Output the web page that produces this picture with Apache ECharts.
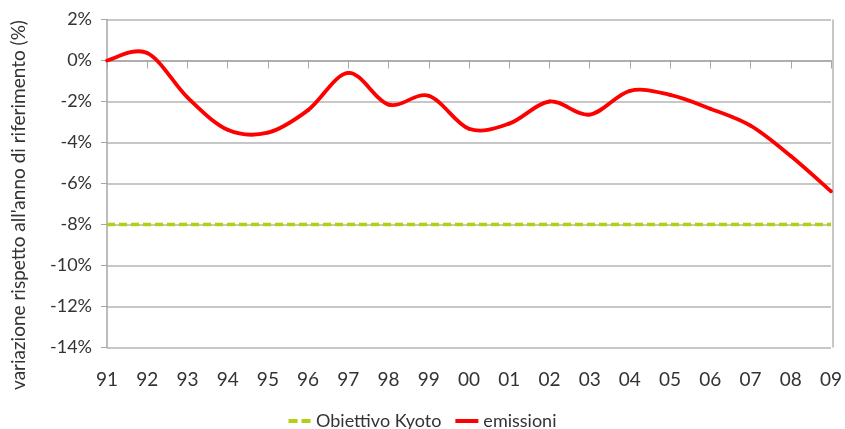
<!DOCTYPE html>
<html>
<head>
<meta charset="utf-8">
<script src="https://cdn.jsdelivr.net/npm/echarts@6/dist/echarts.min.js"></script>
<style>
  html, body { margin: 0; padding: 0; background: #fff; }
  #chart { width: 845px; height: 429px; }
</style>
</head>
<body>
<div id="chart"></div>
<script>
// Years (two-digit labels) and variation of emissions vs. reference year, in %
const years = ['91','92','93','94','95','96','97','98','99','00','01','02','03','04','05','06','07','08','09'];
const emissioni = [0, 0.37, -1.8, -3.38, -3.52, -2.42, -0.6, -2.15, -1.72, -3.33, -3.08, -2.0, -2.64, -1.48, -1.68, -2.35, -3.18, -4.66, -6.38];
const kyotoTarget = -8;
const kyoto = years.map(() => kyotoTarget);
const yTicks = { min: -14, max: 2, step: 2 };

const FONT = 'Lato, "Open Sans", sans-serif';
const RED = '#ff0000';
const GREEN = '#b3cf0d';

// Smoothed curve segment (cardinal spline, tension 1/6) between point i and i+1
function renderSegment(params, api) {
  const i = params.dataIndex;
  const n = emissioni.length;
  if (i >= n - 1) return null;
  const pt = k => {
    const j = Math.max(0, Math.min(n - 1, k));
    return api.coord([j, emissioni[j]]);
  };
  const p0 = pt(i - 1), p1 = pt(i), p2 = pt(i + 1), p3 = pt(i + 2);
  const c1 = [p1[0] + (p2[0] - p0[0]) / 6, p1[1] + (p2[1] - p0[1]) / 6];
  const c2 = [p2[0] - (p3[0] - p1[0]) / 6, p2[1] - (p3[1] - p1[1]) / 6];
  return {
    type: 'bezierCurve',
    shape: { x1: p1[0], y1: p1[1], cpx1: c1[0], cpy1: c1[1], cpx2: c2[0], cpy2: c2[1], x2: p2[0], y2: p2[1] },
    style: { stroke: RED, lineWidth: 3.8, fill: null, lineCap: 'round' }
  };
}

const chart = echarts.init(document.getElementById('chart'));
chart.setOption({
  animation: false,
  textStyle: { fontFamily: FONT, color: '#333' },
  grid: { left: 107, right: 12, top: 19.5, bottom: 81.5, containLabel: false },
  legend: {
    top: 407,
    left: 'center',
    itemWidth: 23,
    itemHeight: 4,
    itemGap: 14,
    textStyle: { fontFamily: FONT, fontSize: 18, color: '#333' },
    data: [
      { name: 'Obiettivo Kyoto', icon: 'path://M0,0h9v4h-9z M13,0h9v4h-9z', itemStyle: { color: GREEN } },
      { name: 'emissioni', icon: 'rect', itemStyle: { color: RED } }
    ]
  },
  xAxis: {
    type: 'category',
    data: years,
    boundaryGap: false,
    axisLine: { lineStyle: { color: '#a6a6a6', width: 1.5 } },
    axisTick: { show: true, length: 8, interval: 0, lineStyle: { color: '#a6a6a6', width: 1 } },
    axisLabel: { fontSize: 19, color: '#333', margin: 23, interval: 0, fontFamily: FONT },
    splitLine: { show: false }
  },
  yAxis: {
    type: 'value',
    min: yTicks.min,
    max: yTicks.max,
    interval: yTicks.step,
    axisLine: { show: true, lineStyle: { color: '#a6a6a6', width: 1.5 } },
    axisTick: { show: true, length: 6, lineStyle: { color: '#a6a6a6' } },
    axisLabel: { fontSize: 18, color: '#333', margin: 15, formatter: v => v + '%', fontFamily: FONT },
    splitLine: { show: true, lineStyle: { color: '#b4b4b4', width: 1.5 } }
  },
  series: [
    {
      name: 'Obiettivo Kyoto',
      type: 'line',
      data: kyoto,
      symbol: 'none',
      lineStyle: { color: GREEN, width: 3.5, type: [8, 4] },
      itemStyle: { color: GREEN },
      z: 3
    },
    {
      name: 'emissioni',
      type: 'custom',
      data: emissioni.map((v, i) => [i, v]),
      encode: { x: 0, y: 1 },
      renderItem: renderSegment,
      itemStyle: { color: RED },
      clip: false,
      z: 4
    }
  ],
  graphic: [
    // right border of the plot area
    { type: 'line', shape: { x1: 833, y1: 19.5, x2: 833, y2: 347.5 }, style: { stroke: '#b4b4b4', lineWidth: 1.5 }, silent: true },
    // y-axis title
    {
      type: 'text', x: 19, y: 205, rotation: Math.PI / 2, silent: true,
      style: {
        text: "variazione rispetto all'anno di riferimento (%)",
        font: '19px ' + FONT, fill: '#333', align: 'center', verticalAlign: 'middle'
      }
    }
  ]
});
</script>
</body>
</html>
